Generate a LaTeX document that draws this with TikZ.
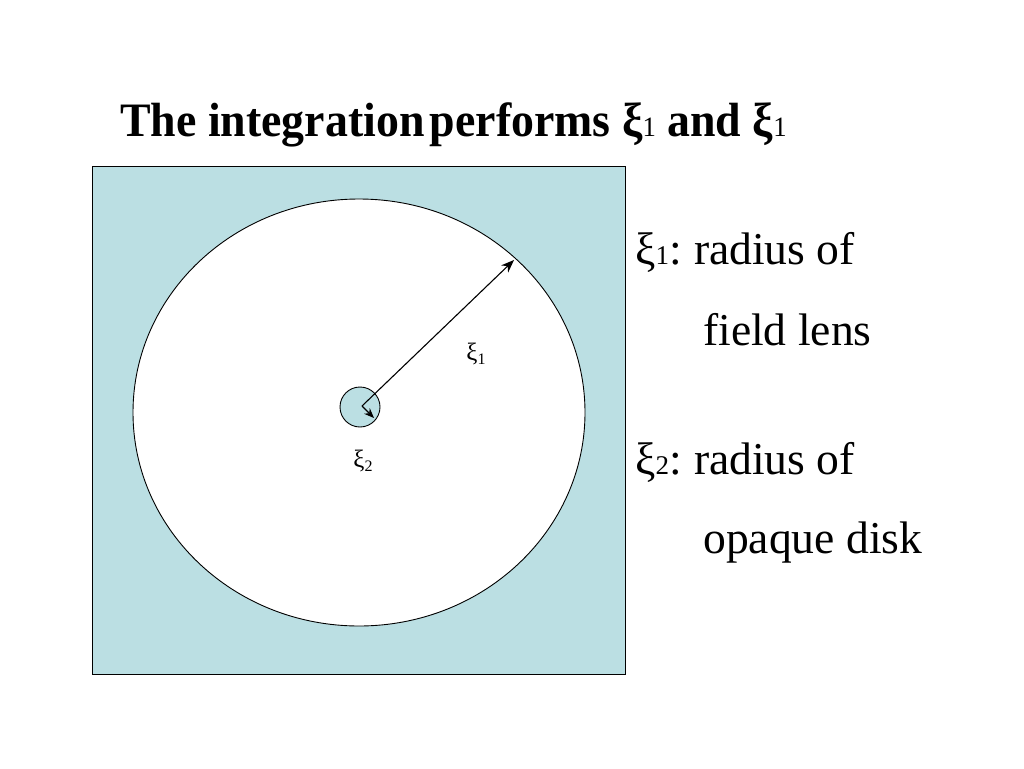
\documentclass[tikz,border=0pt]{standalone}
\usepackage{fontspec}
\setmainfont{Liberation Serif}
\usetikzlibrary{arrows.meta,shapes.geometric}
\definecolor{lensblue}{HTML}{BBDFE3}
\tikzset{
  outline/.style={draw=black,line width=0.9pt},
  lbl/.style={inner sep=0pt,anchor=base west,font=\fontsize{45.6}{54}\selectfont},
  arr/.style={line width=1.1pt,-{Stealth[length=13pt,width=10pt]}},
}
\begin{document}
\begin{tikzpicture}[x=1pt,y=-1pt]
\useasboundingbox (0,0) rectangle (1024,768);
\fill[white] (0,0) rectangle (1024,768);
% title
\node[inner sep=0pt,anchor=base west,xscale=0.955,transform shape,font=\fontsize{48}{56}\selectfont\bfseries] (title) at (120,136)
  {The integration\hspace{0.12em}performs ξ{\fontsize{28}{30}\selectfont\mdseries 1} and ξ{\fontsize{28}{30}\selectfont\mdseries 1}};
% square and lens
\node[outline,fill=lensblue,rectangle,minimum width=533pt,minimum height=508pt,inner sep=0pt,anchor=north west] (sq) at (92,166) {};
\node[outline,fill=white,ellipse,minimum width=452pt,minimum height=427pt,inner sep=0pt] (lens) at (359,412.5) {};
\node[outline,fill=lensblue,circle,minimum size=40pt,inner sep=0pt] (disk) at (360,407) {};
\coordinate (c) at (362,406);
\coordinate (rim) at (514,260);
\coordinate (diskedge) at (374,418);
\draw[arr] (c) -- (rim);
\draw[arr,-{Stealth[length=10pt,width=8pt]}] (c) -- (diskedge);
\node[font=\fontsize{25}{28}\selectfont] (x1) at (476,354) {ξ\raisebox{-0.15em}{\fontsize{16}{18}\selectfont 1}};
\node[font=\fontsize{25}{28}\selectfont] (x2) at (363,461) {ξ\raisebox{-0.15em}{\fontsize{16}{18}\selectfont 2}};
% labels
\node[lbl] (l1) at (635,264) {ξ{\fontsize{27}{30}\selectfont 1}:\hspace{0.27em}radius of};
\node[lbl] (l2) at (703,345) {field lens};
\node[lbl] (l3) at (635,474) {ξ{\fontsize{27}{30}\selectfont 2}:\hspace{0.27em}radius of};
\node[lbl] (l4) at (703,553) {opaque disk};
\end{tikzpicture}
\end{document}
